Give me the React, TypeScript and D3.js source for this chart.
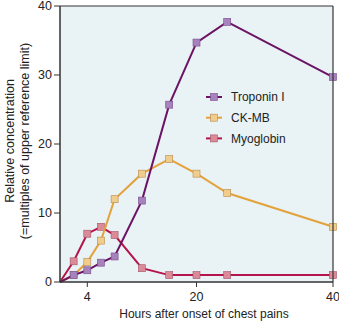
import React from "react";
import * as d3 from "d3";

const hours = [0, 2, 4, 6, 8, 12, 16, 20, 24.5, 40];
const troponin = [0, 1.0, 1.7, 2.8, 3.7, 11.8, 25.7, 34.7, 37.7, 29.7];
const ckmb = [0, 1.0, 2.9, 6.0, 12.0, 15.7, 17.8, 15.7, 12.9, 8.0];
const myoglobin = [0, 3.0, 7.0, 8.0, 6.8, 2.0, 1.0, 1.0, 1.0, 1.0];
const xTicks = [4, 20, 40];
const yTicks = [0, 10, 20, 30, 40];
const seriesNames = ["Troponin I", "CK-MB", "Myoglobin"];

const W = 339, H = 321;
const m = { left: 60, right: 6, top: 6, bottom: 39 };

export default function App() {
  const x = d3.scaleLinear().domain([0, 40]).range([m.left, W - m.right]);
  const y = d3.scaleLinear().domain([0, 40]).range([H - m.bottom, m.top]);
  const series = [
    { name: seriesNames[0], vals: troponin, line: "#6b1466", fill: "#a683bd", stroke: "#7a4a8c" },
    { name: seriesNames[1], vals: ckmb, line: "#e3a23c", fill: "#f0cd8c", stroke: "#b88a4a" },
    { name: seriesNames[2], vals: myoglobin, line: "#b5134b", fill: "#dc8a98", stroke: "#a0566a" },
  ];
  const lineGen = d3.line<[number, number]>().x(d => x(d[0])).y(d => y(d[1]));
  const font = "Liberation Sans, Arial, sans-serif";
  const ms = 7;
  return (
    <svg width={W} height={H} style={{ position: "absolute", left: 0, top: 0 }} fontFamily={font}>
      <rect x={x(0)} y={y(40)} width={x(40) - x(0)} height={y(0) - y(40)} fill="#e9f2f4" />
      {[...series].reverse().map(s => {
        const pts = hours.map((h, i) => [h, s.vals[i]] as [number, number]);
        return (
          <g key={s.name}>
            <path d={lineGen(pts) || ""} fill="none" stroke={s.line} strokeWidth={2} />
            {pts.slice(1).map((p, i) => (
              <rect key={i} x={x(p[0]) - ms / 2} y={y(p[1]) - ms / 2} width={ms} height={ms}
                fill={s.fill} stroke={s.stroke} strokeWidth={0.6} />
            ))}
          </g>
        );
      })}
      <line x1={x(0)} x2={x(0)} y1={y(40)} y2={y(0)} stroke="#333" strokeWidth={1.5} />
      <line x1={x(0)} x2={x(40)} y1={y(0)} y2={y(0)} stroke="#333" strokeWidth={1.5} />
      <line x1={x(0)} x2={x(40)} y1={y(40)} y2={y(40)} stroke="#333" strokeWidth={1.2} />
      <line x1={x(40)} x2={x(40)} y1={y(40)} y2={y(0)} stroke="#333" strokeWidth={1.2} />
      {yTicks.map(t => (
        <g key={t}>
          <line x1={x(0) - 6} x2={x(0)} y1={y(t)} y2={y(t)} stroke="#333" strokeWidth={1} />
          <text x={x(0) - 8} y={y(t)} dy="0.35em" textAnchor="end" fontSize={12.5} fill="#222">{t}</text>
        </g>
      ))}
      {xTicks.map(t => (
        <g key={t}>
          <line x1={x(t)} x2={x(t)} y1={y(0)} y2={y(0) + 5} stroke="#333" strokeWidth={1} />
          <text x={x(t)} y={y(0) + 19} textAnchor="middle" fontSize={12.5} fill="#222">{t}</text>
        </g>
      ))}
      <text x={204} y={318} textAnchor="middle" fontSize={12} fill="#222">Hours after onset of chest pains</text>
      <g transform="translate(14,141) rotate(-90)">
        <text x={0} y={0} textAnchor="middle" fontSize={12.5} fill="#222">Relative concentration</text>
        <text x={0} y={15} textAnchor="middle" fontSize={12.5} fill="#222">(=multiples of upper reference limit)</text>
      </g>
      {series.map((s, i) => {
        const ly = 97 + i * 20.7;
        return (
          <g key={s.name}>
            <line x1={206} x2={222} y1={ly} y2={ly} stroke={s.line} strokeWidth={2} />
            <rect x={214 - ms / 2} y={ly - ms / 2} width={ms} height={ms} fill={s.fill} stroke={s.stroke} strokeWidth={0.6} />
            <text x={231} y={ly} dy="0.35em" fontSize={12} fill="#222">{s.name}</text>
          </g>
        );
      })}
    </svg>
  );
}
